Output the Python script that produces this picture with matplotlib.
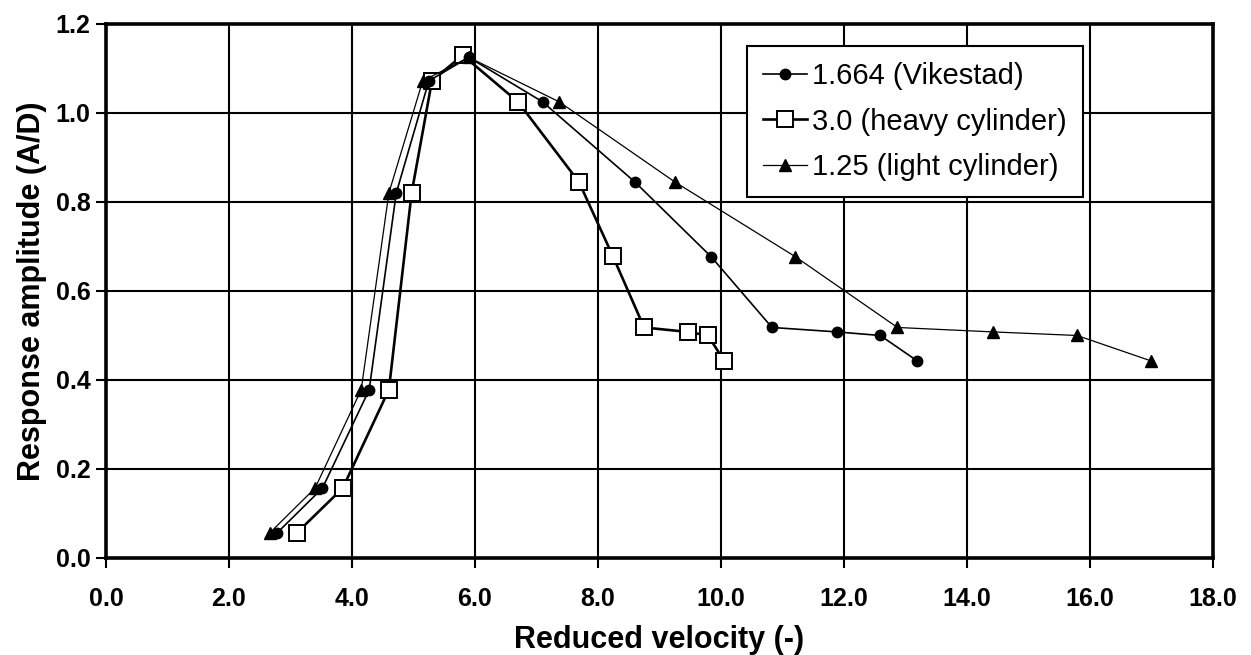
import matplotlib
matplotlib.use("Agg")
import matplotlib.pyplot as plt

plt.rcParams['font.family'] = ['Liberation Sans', 'DejaVu Sans']

# reduced velocity / response amplitude for the three mass ratios
vik_x = [2.78, 3.52, 4.28, 4.72, 5.25, 5.9, 7.1, 8.6, 9.84, 10.83, 11.89, 12.59, 13.19]
vik_y = [0.056, 0.157, 0.378, 0.82, 1.072, 1.125, 1.025, 0.845, 0.677, 0.518, 0.508, 0.50, 0.443]

heavy_x = [3.1, 3.85, 4.6, 4.97, 5.3, 5.8, 6.7, 7.69, 8.24, 8.75, 9.46, 9.79, 10.05]
heavy_y = [0.056, 0.157, 0.378, 0.82, 1.072, 1.13, 1.025, 0.845, 0.679, 0.518, 0.508, 0.50, 0.443]

light_x = [2.66, 3.4, 4.15, 4.6, 5.15, 5.9, 7.37, 9.25, 11.21, 12.87, 14.43, 15.79, 16.99]
light_y = [0.056, 0.157, 0.378, 0.82, 1.072, 1.125, 1.025, 0.845, 0.677, 0.518, 0.508, 0.50, 0.443]

labels = ['1.664 (Vikestad)', '3.0 (heavy cylinder)', '1.25 (light cylinder)']
xticks = [0, 2, 4, 6, 8, 10, 12, 14, 16, 18]
yticks = [0.0, 0.2, 0.4, 0.6, 0.8, 1.0, 1.2]

fig = plt.figure(figsize=(12.51, 6.55), dpi=100)
ax = fig.add_axes([0.0847, 0.1481, 0.8849, 0.8153])

ax.plot(heavy_x, heavy_y, color='black', lw=1.9, marker='s', ms=11,
        mfc='white', mec='black', mew=1.4, label=labels[1], zorder=3)
ax.plot(vik_x, vik_y, color='black', lw=1.2, marker='o', ms=7.5,
        label=labels[0], zorder=4)
ax.plot(light_x, light_y, color='black', lw=0.9, marker='^', ms=8.5,
        label=labels[2], zorder=4)

ax.set_xlim(0, 18)
ax.set_ylim(0, 1.2)
ax.set_xticks(xticks)
ax.set_yticks(yticks)
ax.set_xticklabels(['%.1f' % v for v in xticks])
ax.set_yticklabels(['%.1f' % v for v in yticks])
ax.grid(True, color='black', lw=1.5)
ax.set_axisbelow(True)

for side in ax.spines.values():
    side.set_linewidth(2.6)
ax.tick_params(direction='out', length=7, width=1.5, pad=14)
for lab in ax.get_xticklabels() + ax.get_yticklabels():
    lab.set_fontsize(18)
    lab.set_fontweight('bold')
ax.tick_params(axis='y', pad=4)

ax.set_xlabel('Reduced velocity (-)', fontsize=22, fontweight='bold', labelpad=10)
ax.set_ylabel('Response amplitude (A/D)', fontsize=22, fontweight='bold', labelpad=6)

h, l = ax.get_legend_handles_labels()
order = [1, 0, 2]
leg = ax.legend([h[i] for i in order], [l[i] for i in order],
                loc='upper right', bbox_to_anchor=(0.8826, 0.9588),
                borderaxespad=0, fontsize=21, frameon=True, fancybox=False,
                edgecolor='black', framealpha=1, handlelength=1.5,
                handletextpad=0.2, labelspacing=0.6, borderpad=0.55)
leg.get_frame().set_linewidth(1.5)

fig.savefig('out.png', dpi=100)
